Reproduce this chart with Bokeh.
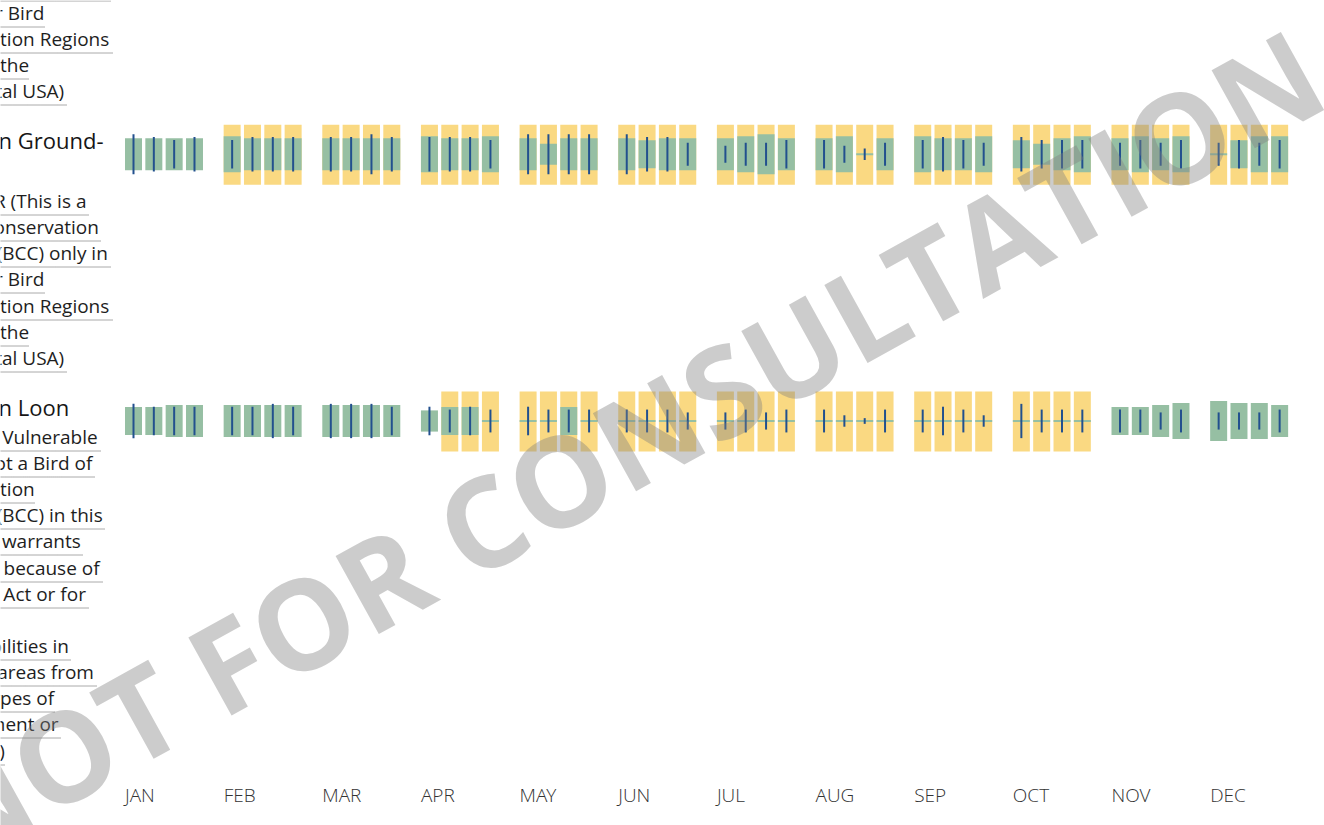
import math
from bokeh.plotting import figure
from bokeh.models import Range1d
from bokeh.embed import file_html
from bokeh.resources import INLINE
from bokeh.core.properties import value

# ---------------- data ----------------
MONTHS = ["JAN", "FEB", "MAR", "APR", "MAY", "JUN", "JUL", "AUG", "SEP", "OCT", "NOV", "DEC"]

# probability of presence per week (0-10 scale; 0 = no data)
DOVE_PRESENCE = [8, 8, 8, 8,   9, 8, 8, 8,   8, 8, 8, 8,   9, 8, 8, 9,
                 8, 5.3, 8, 8, 8, 7, 8, 8,   8, 9, 10, 8,  8, 9, 0, 8,
                 9, 8, 8, 9,   7, 5.3, 8, 9, 8, 9, 8, 9,   0, 7, 9, 9]
# survey effort per week (0-7 scale)
DOVE_EFFORT = [7, 6, 5, 6,  5, 6, 6, 6,  6, 6, 7, 6,  6, 6, 6, 5,
               7, 7, 7, 7,  7, 6, 6, 4,  3, 4, 4, 5,  5, 3, 2, 4,
               5, 6, 5, 4,  6, 5, 5, 5,  4, 5, 4, 5,  4, 5, 4, 5]
# breeding season flag per week
DOVE_BREEDING = [0] * 4 + [1] * 44

LOON_PRESENCE = [7, 7, 8, 8,  8, 8, 8, 8,  8, 8, 8, 8,  5.3, 7, 7, 0,
                 0, 0, 7, 0,  0, 0, 0, 0,  0, 0, 0, 0,  0, 0, 0, 0,
                 0, 0, 0, 0,  0, 0, 0, 0,  7, 7, 8, 9,  10, 9, 9, 8]
LOON_EFFORT = [6, 5, 5, 5,  5, 5, 6, 5,  6, 6, 6, 5,  5, 4, 5, 4,
               5, 4, 4, 4,  4, 4, 4, 3,  3, 4, 3, 4,  4, 2, 1, 4,
               4, 5, 4, 2,  6, 4, 4, 4,  4, 4, 3, 4,  3, 3, 3, 4]
LOON_BREEDING = [0] * 13 + [1] * 27 + [0] * 8

BCC_BCR_LINES = ["BCC - BCR (This is a", "Bird of Conservation", "Concern (BCC) only in",
                 "particular Bird", "Conservation Regions", "(BCRs) in the", "continental USA)"]
LOON_LINES = ["Non-BCC Vulnerable", "(This is not a Bird of", "Conservation",
              "Concern (BCC) in this", "area, but warrants", "attention because of",
              "the Eagle Act or for", "potential", "susceptibilities in",
              "offshore areas from", "certain types of", "development or", "activities.)"]

WATERMARK = "NOT FOR CONSULTATION"

# rows: (name lines, description lines, presence, effort, breeding)
ROWS = [
    ([], BCC_BCR_LINES, None, None, None),            # previous species, scrolled off the top
    (["Common Ground-", "dove"], BCC_BCR_LINES, DOVE_PRESENCE, DOVE_EFFORT, DOVE_BREEDING),
    (["Common Loon"], LOON_LINES, LOON_PRESENCE, LOON_EFFORT, LOON_BREEDING),
]

# ---------------- layout ----------------
W, H = 1324, 825
MONTH_X0 = 124.5      # left edge of first week bar
MONTH_STEP = 98.65
WEEK_STEP = 20.33
BAR_W = 17
ROW_Y0 = -112.5       # center of row 0
ROW_STEP = 266.75
BAR_H = 60
PRES_UNIT = 4.0       # px per presence unit
EFFORT_UNIT = 40 / 7  # px per effort unit
TEXT_X = -83
NAME_SIZE = "22px"
DESC_SIZE = "19px"
NAME_LINE_H = 31
LINE_H = 26.15

# visible underline right ends for description lines
UNDERLINE_END = {
    "BCC": [88, 101, 110, 45, 113, 29, 66],
    "LOON": [100, 94, 35, 105, 83, 102, 88, -2, 70, 96, 55, 60, 5],
}

YELLOW = "#fad982"
GREEN = "#96bfa3"
BLUE = "#22508e"

p = figure(width=W, height=H, x_range=Range1d(0, W), y_range=Range1d(H, 0),
           output_backend="svg", toolbar_location=None,
           x_axis_location=None, y_axis_location=None,
           min_border=0, min_border_left=0, min_border_right=0,
           min_border_top=0, min_border_bottom=0,
           background_fill_color="white", border_fill_color="white",
           outline_line_color=None)
p.grid.visible = False

week_x = [MONTH_X0 + BAR_W / 2 + (i // 4) * MONTH_STEP + (i % 4) * WEEK_STEP for i in range(48)]

yx, yy = [], []
gx, gy, gh = [], [], []
bx, by, bh = [], [], []
tx, ty, tt = [], [], []
nx, ny, nt = [], [], []
ux0, uy, ux1 = [], [], []

for r, (names, desc, pres, eff, breed) in enumerate(ROWS):
    cy = ROW_Y0 + r * ROW_STEP
    if pres is not None:
        for i in range(48):
            if breed[i]:
                yx.append(week_x[i]); yy.append(cy)
            gx.append(week_x[i]); gy.append(cy - 0.5)
            gh.append(max(pres[i] * PRES_UNIT, 2))
            bx.append(week_x[i]); by.append(cy - 0.5); bh.append(eff[i] * EFFORT_UNIT)
    n_names = len(names) if names else 2
    base = cy - 14.75
    for k, nm in enumerate(names):
        nx.append(TEXT_X); ny.append(base + NAME_LINE_H * k); nt.append(nm)
    desc_start = base + NAME_LINE_H * (n_names - 1) + 30
    ends = UNDERLINE_END["LOON"] if desc is LOON_LINES else UNDERLINE_END["BCC"]
    for k, line in enumerate(desc):
        bl = desc_start + k * LINE_H
        tx.append(TEXT_X); ty.append(bl); tt.append(line)
        ux0.append(TEXT_X); ux1.append(ends[k]); uy.append(math.floor(bl + 14) + 0.5)

p.rect(x=yx, y=yy, width=BAR_W, height=BAR_H, fill_color=YELLOW, line_color=None)
p.rect(x=gx, y=gy, width=BAR_W, height=gh, fill_color=GREEN, line_color=None)
p.rect(x=bx, y=by, width=2, height=bh, fill_color=BLUE, line_color=None)

p.segment(x0=ux0, y0=uy, x1=ux1, y1=uy, line_color="#555555", line_width=1, line_dash="1 1")
p.text(x=tx, y=ty, text=tt, text_font=value("Open Sans"), text_font_size=DESC_SIZE,
       text_color="#1e1e1e", text_baseline="alphabetic", text_align="left")
p.text(x=nx, y=ny, text=nt, text_font=value("Open Sans"), text_font_size=NAME_SIZE,
       text_color="#161616", text_baseline="alphabetic", text_align="left")

month_x = [MONTH_X0 + m * MONTH_STEP for m in range(12)]
p.text(x=month_x, y=[794] * 12, text=MONTHS, text_font=value("Open Sans Light"),
       text_font_size="19px", text_color="#333333", text_baseline="alphabetic",
       text_align="left")

# watermark
p.text(x=[620], y=[444], text=[WATERMARK], angle=29, angle_units="deg",
       text_font=value("Open Sans"), text_font_size="125px", text_font_style="bold",
       text_color="#808080", text_alpha=0.40, text_align="center", text_baseline="middle")

open("out.html", "w").write(file_html(p, INLINE))
